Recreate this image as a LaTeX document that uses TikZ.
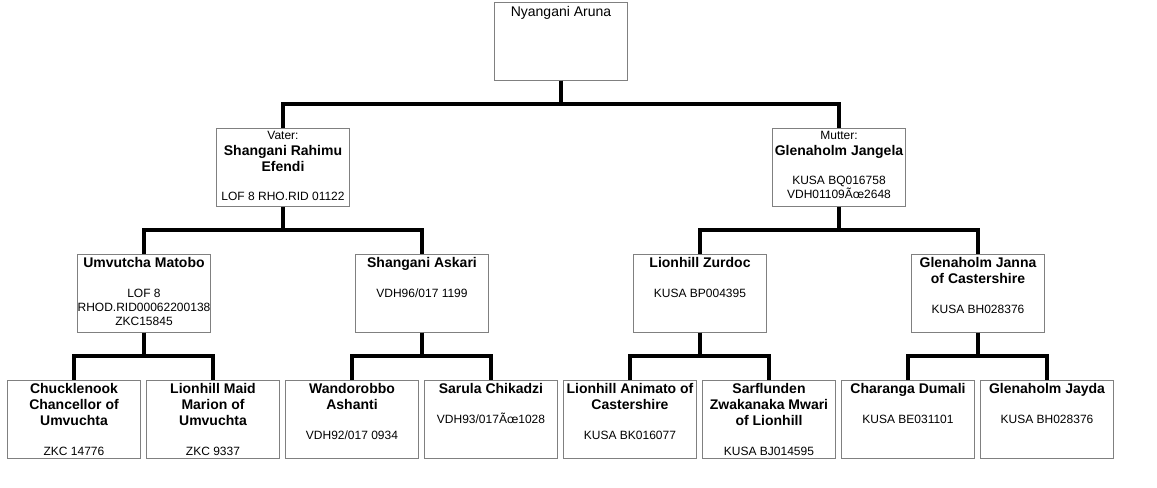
\documentclass[tikz,border=0pt]{standalone}
\usepackage{fontspec}
\setmainfont{Liberation Sans}
\usetikzlibrary{calc}
\newcommand\bnm[1]{{\fontsize{10.5pt}{12pt}\selectfont\bfseries #1}}
\begin{document}
\begin{tikzpicture}[x=0.75pt,y=-0.75pt,
  box/.style={draw=black!50, line width=0.75pt, fill=white, minimum width=133*0.75pt, minimum height=78*0.75pt, inner sep=0pt},
  txt/.style={anchor=north, inner sep=0pt, align=center, font=\fontsize{9pt}{12pt}\selectfont},
  conn/.style={line width=3pt, black, line join=miter}]
\fill[white] (0,0) rectangle (1157,487);
\useasboundingbox (0,0) rectangle (1157,487);
% boxes
\node[box] (r) at (561,41) {};
\node[box] (v) at (283,167.5) {};
\node[box] (m) at (839,167.5) {};
\node[box] (a) at (144,293) {};
\node[box] (b) at (422,293) {};
\node[box] (c) at (700,293) {};
\node[box] (d) at (978,293) {};
\node[box] (a1) at (74,419) {};
\node[box] (a2) at (213,419) {};
\node[box] (b1) at (352,419) {};
\node[box] (b2) at (491,419) {};
\node[box] (c1) at (630,419) {};
\node[box] (c2) at (769,419) {};
\node[box] (d1) at (908,419) {};
\node[box] (d2) at (1047,419) {};
% connectors
\foreach \p/\q in {r/v,r/m,v/a,v/b,m/c,m/d,a/a1,a/a2,b/b1,b/b2,c/c1,c/c2,d/d1,d/d2}{
  \draw[conn] (\p.south) |- ($(\p.south)!.5!(\q.north)$) -| (\q.north);
}
% texts
\node[txt,font=\fontsize{10.5pt}{12pt}\selectfont] (rt) at ([yshift=-3.75pt]r.north) {Nyangani Aruna};
\node[txt] (vt) at ([yshift=-2.25pt]v.north) {Vater:\\ \bnm{Shangani Rahimu}\\ \bnm{Efendi}\\[10pt] LOF 8 RHO.RID 01122};
\node[txt] (mt) at ([yshift=-2.25pt]m.north) {Mutter:\\ \bnm{Glenaholm Jangela}\\[10pt] KUSA BQ016758\\[-1.5pt] VDH01109Ãœ2648};
\node[txt] (at) at ([yshift=-3pt]a.north) {\bnm{Umvutcha Matobo}\\[10pt] LOF 8\\[-1.5pt] RHOD.RID00062200138\\[-1.5pt] ZKC15845};
\node[txt] (bt) at ([yshift=-3pt]b.north) {\bnm{Shangani Askari}\\[10pt] VDH96/017 1199};
\node[txt] (ct) at ([yshift=-3pt]c.north) {\bnm{Lionhill Zurdoc}\\[10pt] KUSA BP004395};
\node[txt] (dt) at ([yshift=-3pt]d.north) {\bnm{Glenaholm Janna}\\ \bnm{of Castershire}\\[10pt] KUSA BH028376};
\node[txt] (a1t) at ([yshift=-3pt]a1.north) {\bnm{Chucklenook}\\ \bnm{Chancellor of}\\ \bnm{Umvuchta}\\[10pt] ZKC 14776};
\node[txt] (a2t) at ([yshift=-3pt]a2.north) {\bnm{Lionhill Maid}\\ \bnm{Marion of}\\ \bnm{Umvuchta}\\[10pt] ZKC 9337};
\node[txt] (b1t) at ([yshift=-3pt]b1.north) {\bnm{Wandorobbo}\\ \bnm{Ashanti}\\[10pt] VDH92/017 0934};
\node[txt] (b2t) at ([yshift=-3pt]b2.north) {\bnm{Sarula Chikadzi}\\[10pt] VDH93/017Ãœ1028};
\node[txt] (c1t) at ([yshift=-3pt]c1.north) {\bnm{Lionhill Animato of}\\ \bnm{Castershire}\\[10pt] KUSA BK016077};
\node[txt] (c2t) at ([yshift=-3pt]c2.north) {\bnm{Sarflunden}\\ \bnm{Zwakanaka Mwari}\\ \bnm{of Lionhill}\\[10pt] KUSA BJ014595};
\node[txt] (d1t) at ([yshift=-3pt]d1.north) {\bnm{Charanga Dumali}\\[10pt] KUSA BE031101};
\node[txt] (d2t) at ([yshift=-3pt]d2.north) {\bnm{Glenaholm Jayda}\\[10pt] KUSA BH028376};
\end{tikzpicture}
\end{document}
